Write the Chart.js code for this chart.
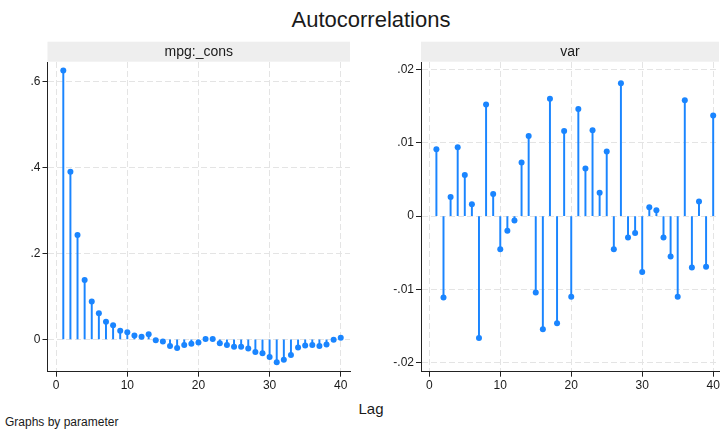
<!DOCTYPE html>
<html>
<head>
<meta charset="utf-8">
<script src="https://cdn.jsdelivr.net/npm/chart.js@4.4.1/dist/chart.umd.min.js"></script>
<style>
  html, body { margin: 0; padding: 0; background: #ffffff; }
  body { width: 722px; height: 430px; position: relative; overflow: hidden;
         font-family: "Liberation Sans", Arial, sans-serif; color: #1a1a1a; }
  .txt { position: absolute; white-space: nowrap; line-height: 1; }
  #title  { left: 371px; top: 9px; font-size: 22px; transform: translateX(-50%); }
  #xtitle { left: 371px; top: 400.5px; font-size: 15px; transform: translateX(-50%); }
  #note   { left: 5px; top: 416px; font-size: 12px; }
  .panel  { position: absolute; top: 40px; }
</style>
</head>
<body>
<div id="title" class="txt">Autocorrelations</div>
<div class="panel" style="left:0;width:362px;height:356px"><canvas id="panelCons" width="362" height="356"></canvas></div>
<div class="panel" style="left:362px;width:360px;height:356px"><canvas id="panelVar" width="360" height="356"></canvas></div>
<div id="xtitle" class="txt">Lag</div>
<div id="note" class="txt">Graphs by parameter</div>

<script>
// Lags 1..40
const lags = [1, 2, 3, 4, 5, 6, 7, 8, 9, 10,
              11, 12, 13, 14, 15, 16, 17, 18, 19, 20,
              21, 22, 23, 24, 25, 26, 27, 28, 29, 30,
              31, 32, 33, 34, 35, 36, 37, 38, 39, 40];

// Autocorrelations of the mpg:_cons parameter draws
const acMpgCons = [0.625, 0.390, 0.243, 0.138, 0.088, 0.061, 0.041, 0.033, 0.020, 0.017,
                   0.009, 0.006, 0.012, -0.002, -0.005, -0.015, -0.020, -0.013, -0.010, -0.007,
                   0.001, 0.001, -0.009, -0.013, -0.017, -0.017, -0.021, -0.029, -0.032, -0.041,
                   -0.053, -0.047, -0.036, -0.019, -0.014, -0.013, -0.015, -0.012, -0.001, 0.004];

// Autocorrelations of the var parameter draws
const acVar = [0.0091, -0.0111, 0.0026, 0.0094, 0.0056, 0.0016, -0.0166, 0.0152, 0.0030, -0.0045,
               -0.0020, -0.0006, 0.0073, 0.0109, -0.0104, -0.0154, 0.0160, -0.0146, 0.0116, -0.0110,
               0.0146, 0.0065, 0.0117, 0.0032, 0.0088, -0.0045, 0.0181, -0.0029, -0.0023, -0.0076,
               0.0012, 0.0008, -0.0029, -0.0055, -0.0110, 0.0158, -0.0070, 0.0020, -0.0069, 0.0137];

const panelNames = ['mpg:_cons', 'var'];
const lagTicks = [0, 10, 20, 30, 40];
const consTicks = [0, 0.2, 0.4, 0.6];
const varTicks = [-0.02, -0.01, 0, 0.01, 0.02];

const markColor = '#1a85ff';
const gridColor = '#e4e4e4';
const axisColor = '#222222';
const textColor = '#1a1a1a';
const tickFont = { family: '"Liberation Sans", Arial, sans-serif', size: 12 };

// Stata-style number labels: ".2", "-.01", "0"
function shortNum(v) {
  const s = String(+Number(v).toFixed(4));
  return s.replace(/^(-?)0\./, '$1.');
}

// Grey header strip above each panel's plot region
const stripPlugin = {
  id: 'strip',
  beforeDraw(chart, args, opts) {
    const { ctx, chartArea: a } = chart;
    ctx.save();
    ctx.fillStyle = '#eeeeee';
    ctx.fillRect(a.left, a.top - 20.3, a.right - a.left, 20);
    ctx.fillStyle = textColor;
    ctx.font = '14px "Liberation Sans", Arial, sans-serif';
    ctx.textAlign = 'center';
    ctx.textBaseline = 'middle';
    ctx.fillText(opts.text, (a.left + a.right) / 2, a.top - 10);
    ctx.restore();
  }
};

function makePanel(canvasId, values, yTicks, yMin, yMax, xMin, xMax, yWidth, padRight, name) {
  const pts = lags.map((l, i) => ({ x: l, y: values[i] }));
  return new Chart(document.getElementById(canvasId), {
    type: 'bar',
    data: {
      datasets: [
        { type: 'bar', data: pts, backgroundColor: markColor, barThickness: 1.3,
          grouped: false, borderWidth: 0, order: 2 },
        { type: 'scatter', data: pts, backgroundColor: markColor, borderWidth: 0,
          pointRadius: 3, pointHoverRadius: 3, order: 1 }
      ]
    },
    options: {
      responsive: false,
      animation: false,
      events: [],
      layout: { padding: { top: 22, right: padRight, left: 0, bottom: 0 } },
      plugins: { legend: { display: false }, tooltip: { enabled: false }, strip: { text: name } },
      scales: {
        x: {
          type: 'linear', min: xMin, max: xMax, offset: false,
          afterFit: s => { s.height = 24.3; },
          afterBuildTicks: s => { s.ticks = lagTicks.map(v => ({ value: v })); },
          grid: { offset: false, color: gridColor, lineWidth: 1, tickColor: axisColor,
                  tickLength: 5, tickWidth: 1 },
          border: { color: axisColor, width: 1, dash: [6, 3] },
          ticks: { font: tickFont, color: textColor, padding: 2, maxRotation: 0,
                   autoSkip: false, callback: v => String(v) }
        },
        y: {
          type: 'linear', min: yMin, max: yMax,
          afterFit: s => { s.width = yWidth; },
          afterBuildTicks: s => { s.ticks = yTicks.map(v => ({ value: v })); },
          grid: { color: gridColor, lineWidth: 1, tickColor: axisColor, tickLength: 5, tickWidth: 1 },
          border: { color: axisColor, width: 1, dash: [6, 3] },
          ticks: { font: tickFont, color: textColor, padding: 2, autoSkip: false,
                   callback: v => shortNum(v) }
        }
      }
    },
    plugins: [stripPlugin]
  });
}

makePanel('panelCons', acMpgCons, consTicks, -0.075, 0.645, -1.22, 41.3, 47.5, 12, panelNames[0]);
makePanel('panelVar', acVar, varTicks, -0.0212, 0.0210, -1.17, 40.82, 59, 2, panelNames[1]);
</script>
</body>
</html>
